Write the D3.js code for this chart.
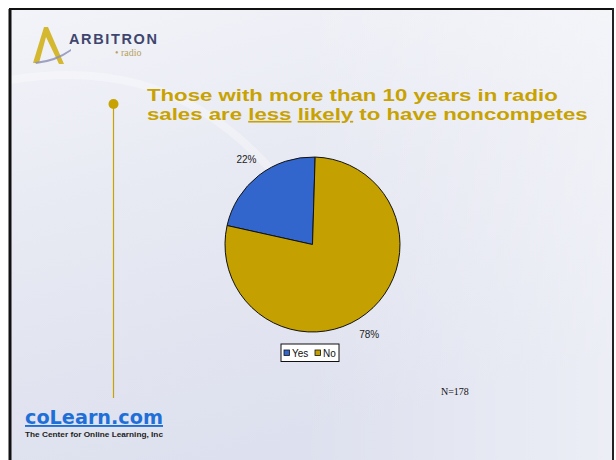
<!DOCTYPE html>
<html><head><meta charset="utf-8">
<script src="https://cdn.jsdelivr.net/npm/d3@7"></script>
<style>html,body{margin:0;padding:0;background:#fff;}svg{display:block;}</style>
</head><body>
<script>
const categories = ["Yes", "No"];
const values = [22, 78];
const colors = ["#3366CC", "#C4A000"];
const titleLine1 = "Those with more than 10 years in radio";
const sampleNote = "N=178";

const W = 616, H = 460;
const svg = d3.select("body").append("svg").attr("width", W).attr("height", H);
const defs = svg.append("defs");
const bg = defs.append("linearGradient").attr("id", "bg").attr("x1", 0).attr("y1", 0).attr("x2", 0.35).attr("y2", 1);
bg.append("stop").attr("offset", 0).attr("stop-color", "#f3f4f9");
bg.append("stop").attr("offset", 0.5).attr("stop-color", "#e6e8f2");
bg.append("stop").attr("offset", 1).attr("stop-color", "#dde0ee");
const bgR = defs.append("linearGradient").attr("id", "bgR").attr("x1", 0).attr("y1", 0).attr("x2", 1).attr("y2", 0);
bgR.append("stop").attr("offset", 0).attr("stop-color", "#ffffff").attr("stop-opacity", 0);
bgR.append("stop").attr("offset", 1).attr("stop-color", "#ffffff").attr("stop-opacity", 0.45);

// slide background + frame
svg.append("rect").attr("x", 10).attr("y", 9).attr("width", 603).attr("height", H - 9).attr("fill", "url(#bg)");
svg.append("rect").attr("x", 300).attr("y", 9).attr("width", 313).attr("height", H - 9).attr("fill", "url(#bgR)");
svg.append("path").attr("d", "M10,80 Q120,62 200,110 T330,260").attr("fill", "none").attr("stroke", "#ffffff").attr("stroke-opacity", 0.3).attr("stroke-width", 8);
svg.append("line").attr("x1", 10).attr("y1", 9).attr("x2", 10).attr("y2", H).attr("stroke", "#111").attr("stroke-width", 3);
svg.append("line").attr("x1", 9).attr("y1", 9).attr("x2", 614).attr("y2", 9).attr("stroke", "#111").attr("stroke-width", 2);
svg.append("line").attr("x1", 613).attr("y1", 8).attr("x2", 613).attr("y2", H).attr("stroke", "#222").attr("stroke-width", 2);

// Arbitron logo
const logo = svg.append("g");
logo.append("path").attr("d", "M33,63 L44,27 L48,27 L64,64 L59,64 L46,37 L39,63 Z").attr("fill", "#d4b830");
logo.append("path").attr("d", "M35,62 Q55,60 71,49 L71,51 Q56,62 36,64 Z").attr("fill", "#8a8fb3").attr("opacity", 0.8);
logo.append("text").attr("x", 69).attr("y", 44).text("ARBITRON")
  .attr("font-family", "Liberation Sans, Arial, sans-serif").attr("font-weight", "bold").attr("font-size", 14.5)
  .attr("fill", "#3f466e").attr("textLength", 88).attr("lengthAdjust", "spacing");
logo.append("text").attr("x", 115).attr("y", 56).text("• radio")
  .attr("font-family", "Liberation Serif, serif").attr("font-size", 10).attr("fill", "#b8a15a");

// title (each line scaled horizontally to the reference width)
function titleLine(y, targetW, build) {
  const t = svg.append("text").attr("x", 0).attr("y", 0)
    .attr("font-family", "Liberation Sans, Arial, sans-serif").attr("font-weight", "bold")
    .attr("font-size", 17).attr("fill", "#C8A200");
  build(t);
  const w = t.node().getComputedTextLength();
  t.attr("transform", `translate(147,${y}) scale(${targetW / w},1)`);
}
titleLine(101, 411, t => t.text(titleLine1));
titleLine(120, 441, t => {
  t.append("tspan").text("sales are ");
  t.append("tspan").attr("text-decoration", "underline").text("less");
  t.append("tspan").text(" ");
  t.append("tspan").attr("text-decoration", "underline").text("likely");
  t.append("tspan").text(" to have noncompetes");
});

// vertical timeline
svg.append("line").attr("x1", 113.5).attr("y1", 104).attr("x2", 113.5).attr("y2", 398).attr("stroke", "#C8A200").attr("stroke-width", 1.2);
svg.append("circle").attr("cx", 113.5).attr("cy", 104).attr("r", 5).attr("fill", "#C8A200");

// pie
const cx = 312.5, cy = 244.5, r = 87.5;
const total = d3.sum(values);
const offset = 0.03;
const pie = d3.pie().sort(null).value(d => d)
  .startAngle(-2 * Math.PI * values[0] / total + offset)
  .endAngle(2 * Math.PI - 2 * Math.PI * values[0] / total + offset);
const arcs = pie(values);
const arc = d3.arc().innerRadius(0).outerRadius(r);
const g = svg.append("g").attr("transform", `translate(${cx},${cy})`);
g.selectAll("path").data(arcs).join("path").attr("d", arc)
  .attr("fill", (d, i) => colors[i]).attr("stroke", "#111").attr("stroke-width", 1);

// labels
const labelR = [r + 20, r + 19];
const labelShift = [0, 0.1];
g.selectAll("text.lbl").data(arcs).join("text").attr("class", "lbl")
  .attr("transform", (d, i) => {
    const a = (d.startAngle + d.endAngle) / 2 + labelShift[i];
    return `translate(${Math.sin(a) * labelR[i]},${-Math.cos(a) * labelR[i]})`;
  })
  .attr("text-anchor", "middle").attr("dy", "0.35em")
  .attr("font-family", "Liberation Sans, Arial, sans-serif").attr("font-size", 10).attr("fill", "#222")
  .text(d => Math.round(100 * d.value / total) + "%");

// legend
const leg = svg.append("g").attr("transform", "translate(281,344)");
leg.append("rect").attr("x", 0).attr("y", 0).attr("width", 58).attr("height", 17.5).attr("fill", "#fff").attr("stroke", "#111").attr("stroke-width", 1);
const items = leg.selectAll("g").data(categories).join("g").attr("transform", (d, i) => `translate(${3 + i * 31},0)`);
items.append("rect").attr("x", 0).attr("y", 6).attr("width", 5.5).attr("height", 5.5)
  .attr("fill", (d, i) => colors[i]).attr("stroke", "#111").attr("stroke-width", 0.8);
items.append("text").attr("x", 8).attr("y", 12.8).text(d => d)
  .attr("font-family", "Liberation Sans, Arial, sans-serif").attr("font-size", 10).attr("fill", "#111");

// N note
svg.append("text").attr("x", 441).attr("y", 395).text(sampleNote)
  .attr("font-family", "Liberation Serif, 'Times New Roman', serif").attr("font-size", 10).attr("fill", "#111");

// coLearn logo
svg.append("text").attr("x", 25).attr("y", 424).text("coLearn.com")
  .attr("font-family", "DejaVu Sans, Verdana, sans-serif").attr("font-weight", "bold").attr("font-size", 19)
  .attr("fill", "#1f6fd8").attr("text-decoration", "underline").attr("textLength", 138).attr("lengthAdjust", "spacingAndGlyphs");
svg.append("text").attr("x", 25).attr("y", 437).text("The Center for Online Learning, Inc")
  .attr("font-family", "Liberation Sans, Arial, sans-serif").attr("font-weight", "bold").attr("font-size", 7)
  .attr("fill", "#222").attr("textLength", 138).attr("lengthAdjust", "spacingAndGlyphs");
</script>
</body></html>
